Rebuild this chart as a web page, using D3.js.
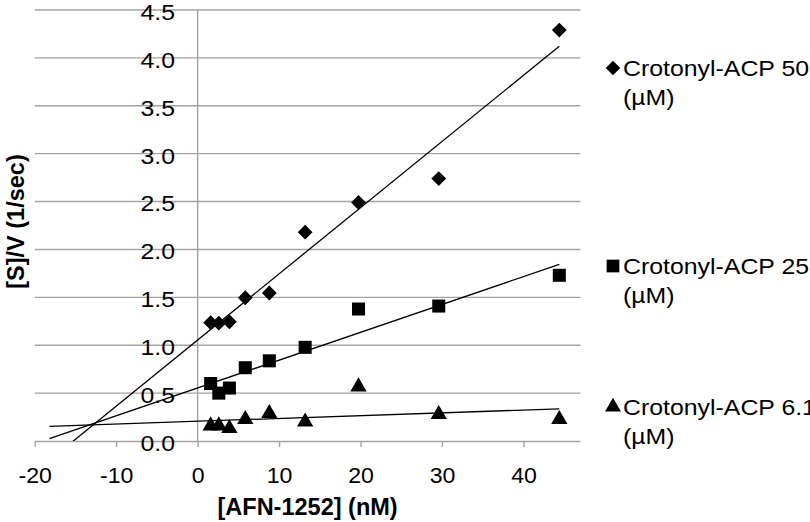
<!DOCTYPE html>
<html>
<head>
<meta charset="utf-8">
<script src="https://cdn.jsdelivr.net/npm/d3@7"></script>
<style>
  html, body { margin: 0; padding: 0; background: #fff; }
  svg { display: block; }
  text { font-family: "Liberation Sans", Arial, sans-serif; fill: #000; }
</style>
</head>
<body>
<svg id="chart" width="810" height="522"></svg>
<script>
// ---- data ----
const afn = [1.6, 2.6, 3.9, 5.85, 8.8, 13.2, 19.75, 29.6, 44.4];   // [AFN-1252] (nM)
const acp50 = [1.235, 1.23, 1.245, 1.496, 1.545, 2.18, 2.49, 2.74, 4.29];
const acp25 = [0.60, 0.50, 0.553, 0.765, 0.837, 0.978, 1.378, 1.409, 1.73];
const acp61 = [0.16, 0.16, 0.132, 0.226, 0.289, 0.20, 0.567, 0.278, 0.226];
const seriesNames = ["Crotonyl-ACP 50", "Crotonyl-ACP 25", "Crotonyl-ACP 6.1"];
const unitLabel = "(µM)";
const xTicks = [-20, -10, 0, 10, 20, 30, 40];
const yTicks = [0, 0.5, 1, 1.5, 2, 2.5, 3, 3.5, 4, 4.5];
const trendStart = -18.2;   // backward forecast start of the linear trendlines
const xTitle = "[AFN-1252] (nM)";
const yTitle = "[S]/V (1/sec)";

// ---- layout ----
const svg = d3.select("#chart");
const plot = { left: 34.7, right: 580.5, top: 10, bottom: 441 };
const x = d3.scaleLinear().domain([-20, 47]).range([plot.left, plot.right]);
const y = d3.scaleLinear().domain([0, 4.5]).range([plot.bottom, plot.top]);
const gridColor = "#a3a3a3";
const stretch = 1.13;   // the reference text is slightly wide

const series = [
  { name: seriesNames[0], values: acp50, shape: d3.symbolDiamond2, size: 140 },
  { name: seriesNames[1], values: acp25, shape: d3.symbolSquare, size: 170 },
  { name: seriesNames[2], values: acp61, shape: d3.symbolTriangle, size: 115 }
];

// gridlines
svg.append("g")
  .selectAll("line")
  .data(yTicks.filter(v => v > 0))
  .join("line")
  .attr("x1", plot.left).attr("x2", plot.right)
  .attr("y1", d => y(d)).attr("y2", d => y(d))
  .attr("stroke", gridColor).attr("stroke-width", 1.4);

// x axis
const xAxis = svg.append("g")
  .attr("transform", `translate(0,${y(0)})`)
  .call(d3.axisBottom(x).tickValues(xTicks).tickSize(6).tickPadding(0).tickFormat(d => String(d)));
xAxis.select(".domain").attr("stroke", gridColor).attr("stroke-width", 1.4)
  .attr("d", `M${plot.left},0.5H${plot.right}`);
xAxis.selectAll(".tick line").attr("stroke", gridColor).attr("stroke-width", 1.4);
xAxis.selectAll(".tick text")
  .attr("font-size", 22).attr("fill", "#000")
  .attr("font-family", "Liberation Sans, Arial, sans-serif")
  .attr("y", 0).attr("dy", 0)
  .attr("transform", "translate(0,42) scale(1.05,1)");

// y axis (crosses at x = 0)
svg.append("line")
  .attr("x1", x(0)).attr("x2", x(0))
  .attr("y1", y(4.5)).attr("y2", y(0))
  .attr("stroke", gridColor).attr("stroke-width", 1.4);

svg.append("g")
  .selectAll("text")
  .data(yTicks)
  .join("text")
  .attr("transform", d => `translate(175,${y(d)}) scale(${stretch},1)`)
  .attr("dy", "0.45em")
  .attr("text-anchor", "end")
  .attr("font-size", 22)
  .text(d => d3.format(".1f")(d));

// clip for trendlines
svg.append("clipPath").attr("id", "plotclip")
  .append("rect")
  .attr("x", plot.left).attr("y", plot.top)
  .attr("width", plot.right - plot.left).attr("height", plot.bottom - plot.top);

// linear regression trendlines
function linreg(xs, ys) {
  const mx = d3.mean(xs), my = d3.mean(ys);
  let sxy = 0, sxx = 0;
  xs.forEach((xv, i) => { sxy += (xv - mx) * (ys[i] - my); sxx += (xv - mx) ** 2; });
  const b = sxy / sxx;
  return { slope: b, intercept: my - b * mx };
}
const xMax = d3.max(afn);
series.forEach(s => {
  const r = linreg(afn, s.values);
  const pts = [trendStart, xMax].map(v => [x(v), y(r.intercept + r.slope * v)]);
  svg.append("path")
    .attr("clip-path", "url(#plotclip)")
    .attr("d", d3.line()(pts))
    .attr("stroke", "#000").attr("stroke-width", 1.3).attr("fill", "none");
});

// markers
series.forEach(s => {
  const sym = d3.symbol().type(s.shape).size(s.size);
  svg.append("g")
    .selectAll("path")
    .data(s.values)
    .join("path")
    .attr("transform", (d, i) => `translate(${x(afn[i])},${y(d)})`)
    .attr("d", sym)
    .attr("fill", "#000");
});

// legend
const legendY = [68, 266, 407];
const lg = svg.append("g");
series.forEach((s, i) => {
  const g = lg.append("g").attr("transform", `translate(0,${legendY[i]})`);
  g.append("path")
    .attr("transform", "translate(613,0)")
    .attr("d", d3.symbol().type(s.shape).size(s.size * 0.95)())
    .attr("fill", "#000");
  g.append("text").attr("transform", `translate(623,0) scale(${stretch},1)`).attr("dy", "0.36em")
    .attr("font-size", 22).text(s.name);
  g.append("text").attr("transform", `translate(623,29) scale(${stretch},1)`).attr("dy", "0.36em")
    .attr("font-size", 22).text(unitLabel);
});

// axis titles
svg.append("text")
  .attr("x", (plot.left + plot.right) / 2)
  .attr("y", 507).attr("dy", "0.36em")
  .attr("text-anchor", "middle")
  .attr("font-size", 23.5).attr("font-weight", "bold")
  .text(xTitle);

svg.append("text")
  .attr("transform", `translate(16,${(plot.top + plot.bottom) / 2 - 4}) rotate(-90)`)
  .attr("dy", "0.36em")
  .attr("text-anchor", "middle")
  .attr("font-size", 23.5).attr("font-weight", "bold")
  .text(yTitle);
</script>
</body>
</html>
